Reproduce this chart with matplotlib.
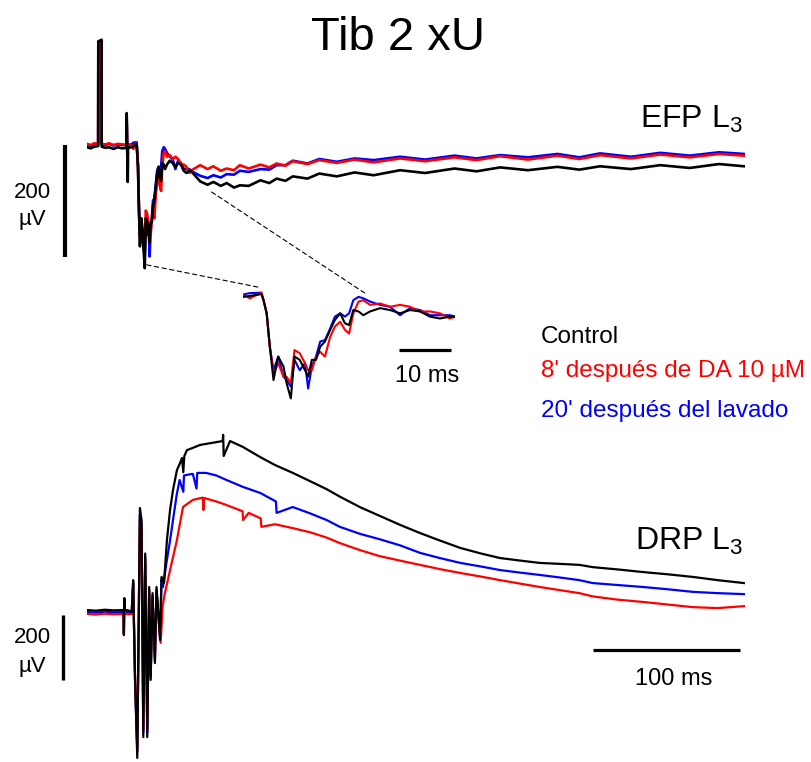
import matplotlib
matplotlib.use('Agg')
import matplotlib.pyplot as plt
from matplotlib.patches import ConnectionPatch

plt.rcParams['font.family'] = ['Liberation Sans', 'DejaVu Sans']
plt.rcParams['mathtext.fontset'] = 'custom'
plt.rcParams['mathtext.rm'] = 'Liberation Sans'
plt.rcParams['mathtext.it'] = 'Liberation Sans:italic'
plt.rcParams['mathtext.bf'] = 'Liberation Sans:bold'

# ---------------- DATA ----------------
# EFP L3 (time in ms, amplitude in uV)
efp_t = [0, 2.5, 5, 7.6, 7.7, 9.9, 10.0, 12.5, 15, 18, 21, 24, 26.9, 27.0, 27.7, 27.8, 30.2, 31.5, 33.7,
         34.1, 34.7, 35.3, 36.0, 36.9, 37.9, 38.5, 39.3, 40.0, 41.0, 42.0, 42.6, 43.3, 44.1, 44.9, 45.8,
         46.8, 47.7, 48.7, 49.6, 50.4, 51.2, 52.2, 53.1, 54.4, 56.3, 58.2, 60.1, 62.0, 63.9, 65.8, 67.7,
         69.6, 70.6,
         77, 82, 86, 91, 95, 100, 104, 110, 118, 124, 129, 135, 140, 150, 158, 170, 182, 195, 213, 230,
         250, 265, 281, 300, 320, 335, 349, 370, 390, 410, 430, 447]
efp_control = [-4, -6, -3, -2, 185, 188, -3, -5, -4, -7, -4, -6, -5, 57, -66, -5, -4, -2, 2,
               -11, -39, -110, -181, -131, -152, -188, -220, -131, -138, -160, -174, -138, -138, -110, -99,
               -74, -53, -39, -60, -64, -32, -35, -43, -35, -28, -32, -39, -32, -35, -46, -50,
               -46, -46,
               -65, -71, -66, -73, -68, -76, -72, -73, -63, -68, -60, -64, -56, -60, -51, -56, -49, -54, -45, -50,
               -42, -47, -40, -45, -39, -44, -38, -43, -36, -41, -34, -38]
efp_da = [2, 0, 3, 2, 183, 186, 2, 1, 3, 0, 2, 1, 0, 50, -60, 0, 0, -7, 5,
          -11, -39, -110, -167, -145, -174, -174, -188, -117, -124, -145, -160, -160, -131, -121, -131,
          -89, -67, -57, -74, -82, -39, -14, -11, -21, -18, -25, -21, -25, -35, -35, -39,
          -50, -46,
          -36, -43, -38, -46, -42, -45, -36, -42, -35, -40, -33, -37, -29, -34, -27, -32, -26, -31, -24, -29,
          -22, -27, -20, -26, -19, -25, -18, -24, -17, -22, -16, -19]
efp_wash = [1, -2, 2, 1, 184, 187, 1, 0, 2, -1, 1, 0, 0, 52, -62, 0, 1, 4, 5,
            -11, -39, -110, -160, -131, -174, -181, -195, -138, -160, -145, -199, -152, -131, -99, -96,
            -71, -46, -39, -46, -39, -11, -4, -7, -14, -21, -25, -43, -28, -32, -43, -43,
            -43, -46,
            -55, -59, -54, -58, -52, -53, -46, -48, -43, -44, -36, -36, -28, -33, -25, -30, -24, -27, -21, -26,
            -19, -24, -18, -22, -16, -22, -15, -21, -14, -19, -13, -16]

# DRP L3 (time in ms, amplitude in uV)
drp_t_control = [0, 6, 12, 18, 24.9, 25.1, 25.4, 25.8, 28, 30.4, 31.4, 32.7, 34.2, 36.0, 37.1, 38.3,
                 39.6, 41.0, 42.3, 43.3, 44.6, 46.2, 47.3, 49.7, 50.7, 52.4, 54.4, 56.5, 58.5, 61.2, 63.0,
                 64.6, 65.5, 66.2, 68, 72, 76.9, 82, 88.4, 92.3, 92.6, 93.0, 97.3, 106, 117.7, 128, 140,
                 152, 163, 172, 186, 199, 213, 226.5, 240, 254, 268, 281, 295, 308, 322, 335, 344, 361,
                 378, 395, 412, 429, 447]
drp_control = [6, 4, 7, 5, 6, -71, 43, 6, 5, 0, 98, -209, -449, 320, 283, -385,
               180, -385, 77, -209, 58, -157, 77, -86, 108, 90, 222, 314, 375, 437, 455,
               474, 430, 480, 498, 505, 514, 518, 523, 526, 545, 480, 526, 508, 477, 452, 428,
               402, 378, 355, 322, 296, 268, 243, 220, 197, 180, 166, 158, 151, 148, 145, 138, 131,
               123, 116, 108, 98, 89]
drp_t_wash = [0, 6, 12, 18, 24.9, 25.1, 25.4, 25.8, 28, 30.4, 31.4, 32.7, 34.2, 36.0, 37.1, 38.3,
              39.6, 41.0, 42.3, 43.3, 44.6, 46.2, 47.3, 49.7, 50.7, 51.7, 54, 56.5, 58.5, 61, 63, 65.5,
              66, 68, 72, 74.5, 75, 81, 88, 95, 106, 118, 128.5, 129, 140, 152, 163, 172, 186, 199,
              213, 226.5, 240, 254, 268, 281, 295, 308, 322, 335, 344, 361, 378, 395, 412, 429, 447]
drp_wash = [0, -2, 1, -1, 0, -68, 40, 0, -1, -3, 90, -218, -430, 300, 270, -370,
            170, -370, 70, -200, 50, -150, 70, -80, 100, 77, 150, 220, 283, 360, 406, 370,
            420, 422, 425, 380, 428, 428, 420, 406, 385, 366, 340, 305, 323, 303, 283, 262, 240, 224,
            205, 182, 166, 151, 140, 129, 121, 114, 106, 98, 89, 83, 77, 70, 62, 58, 55]
drp_t_da = [0, 6, 12, 18, 24.9, 25.1, 25.4, 25.8, 28, 30.4, 31.4, 32.7, 34.2, 36.0, 37.1, 38.3,
            39.6, 41.0, 42.3, 43.3, 44.6, 46.2, 47.3, 50.1, 51.5, 53, 56.5, 61.2, 65.3, 72, 78.8, 79.2,
            79.6, 88, 95, 105.8, 106.2, 110, 118.2, 118.6, 128, 140, 152, 163, 172, 186, 199, 213,
            226.5, 240, 254, 268, 281, 295, 308, 322, 335, 344, 361, 378, 395, 412, 429, 447]
drp_da = [-6, -8, -5, -7, -6, -70, 40, -6, -7, -6, 85, -200, -420, 290, 260, -360,
          160, -360, 65, -190, 45, -140, 60, -95, 20, 58, 129, 222, 323, 345, 352, 314,
          351, 340, 329, 310, 283, 305, 288, 262, 270, 258, 245, 229, 212, 190, 172, 158,
          145, 132, 120, 109, 98, 87, 77, 67, 58, 48, 38, 31, 23, 15, 12, 18]

series_labels = ["Control", "8' después de DA 10 µM", "20' después del lavado"]
series_colors = ["#000000", "#ff0000", "#0000ff"]

title = "Tib 2 xU"
efp_label = "EFP L$_3$"
drp_label = "DRP L$_3$"
amp_bar_uv = 200
time_bar_main_ms = 100
time_bar_inset_ms = 10

# ---------------- LAYOUT ----------------
W, H = 812, 762
fig = plt.figure(figsize=(W / 100, H / 100), dpi=100)


def px_axes(x0, y0, x1, y1):
    return fig.add_axes([x0 / W, 1 - y1 / H, (x1 - x0) / W, (y1 - y0) / H])


# text overlay in pixel coordinates
ax_txt = px_axes(0, 0, W, H)
ax_txt.set_xlim(0, W)
ax_txt.set_ylim(H, 0)
ax_txt.axis('off')

PX_MS = 1.47
X0, X1 = 87, 745

# top EFP axes
ax_top = px_axes(X0, 30, X1, 275)
ax_top.set_xlim(0, (X1 - X0) / PX_MS)
s_top = 0.56
ax_top.set_ylim((145 - 275) / s_top, (145 - 30) / s_top)
ax_top.axis('off')

# inset axes
IX0, IX1 = 243, 455
PX_MS_IN = 5.25
t_in0 = 34.0 + (IX0 - 263) / PX_MS_IN
ax_in = px_axes(IX0, 280, IX1, 410)
ax_in.set_xlim(t_in0, t_in0 + (IX1 - IX0) / PX_MS_IN)
s_in = 0.47
ax_in.set_ylim((295 - 410) / s_in, (295 - 280) / s_in)
ax_in.axis('off')

# bottom DRP axes
ax_bot = px_axes(X0, 420, X1, 762)
ax_bot.set_xlim(0, (X1 - X0) / PX_MS)
s_bot = 0.325
ax_bot.set_ylim((612 - 762) / s_bot, (612 - 420) / s_bot)
ax_bot.axis('off')

# drawing order: wash (blue), DA (red), control (black)
for ax, lw in ((ax_top, 1.9), (ax_in, 1.5)):
    ax.plot(efp_t, efp_wash, color=series_colors[2], lw=lw, zorder=2, solid_joinstyle='round')
    ax.plot(efp_t, efp_da, color=series_colors[1], lw=lw, zorder=3, solid_joinstyle='round')
    ax.plot(efp_t, efp_control, color=series_colors[0], lw=lw, zorder=4, solid_joinstyle='round')

lwb = 1.6
ax_bot.plot(drp_t_wash, drp_wash, color=series_colors[2], lw=lwb, zorder=2)
ax_bot.plot(drp_t_da, drp_da, color=series_colors[1], lw=lwb, zorder=3)
ax_bot.plot(drp_t_control, drp_control, color=series_colors[0], lw=lwb, zorder=4)

# scale bars
ax_top.plot([-15, -15], [0, -amp_bar_uv], color='k', lw=3.0, clip_on=False, solid_capstyle='butt')
ax_bot.plot([-16.3, -16.3], [-10, -10 - amp_bar_uv], color='k', lw=2.4, clip_on=False, solid_capstyle='butt')
ax_bot.plot([344, 344 + time_bar_main_ms], [-117, -117], color='k', lw=2.3, clip_on=False, solid_capstyle='butt')
ax_in.plot([59.9, 59.9 + time_bar_inset_ms], [-116, -116], color='k', lw=2.3, clip_on=False, solid_capstyle='butt')

# dashed zoom connectors
for (pa, pb) in (((40.6, -214), (33.4, 16)), ((84.8, -84), (53.4, 4))):
    con = ConnectionPatch(xyA=pa, coordsA=ax_top.transData, xyB=pb, coordsB=ax_in.transData,
                          color='k', lw=0.8, linestyle=(0, (4, 3)))
    fig.add_artist(con)

# texts
ax_txt.text(398, 50, title, fontsize=34, ha='center', va='baseline')
ax_txt.text(743, 128, efp_label, fontsize=23, ha='right', va='baseline')
ax_txt.text(743, 550, drp_label, fontsize=23, ha='right', va='baseline')

for lab, col, yb in zip(series_labels, series_colors, (343, 377, 417)):
    ax_txt.text(541, yb, lab, color=col, fontsize=17.5, ha='left', va='baseline')

ax_txt.text(32, 198, "200", fontsize=16, ha='center', va='baseline')
ax_txt.text(32, 225, "µV", fontsize=16, ha='center', va='baseline')
ax_txt.text(32, 643, "200", fontsize=16, ha='center', va='baseline')
ax_txt.text(32, 672, "µV", fontsize=16, ha='center', va='baseline')
ax_txt.text(674, 685, f"{time_bar_main_ms} ms", fontsize=17, ha='center', va='baseline')
ax_txt.text(427, 382, f"{time_bar_inset_ms} ms", fontsize=17, ha='center', va='baseline')

fig.savefig('out.png', dpi=100)
